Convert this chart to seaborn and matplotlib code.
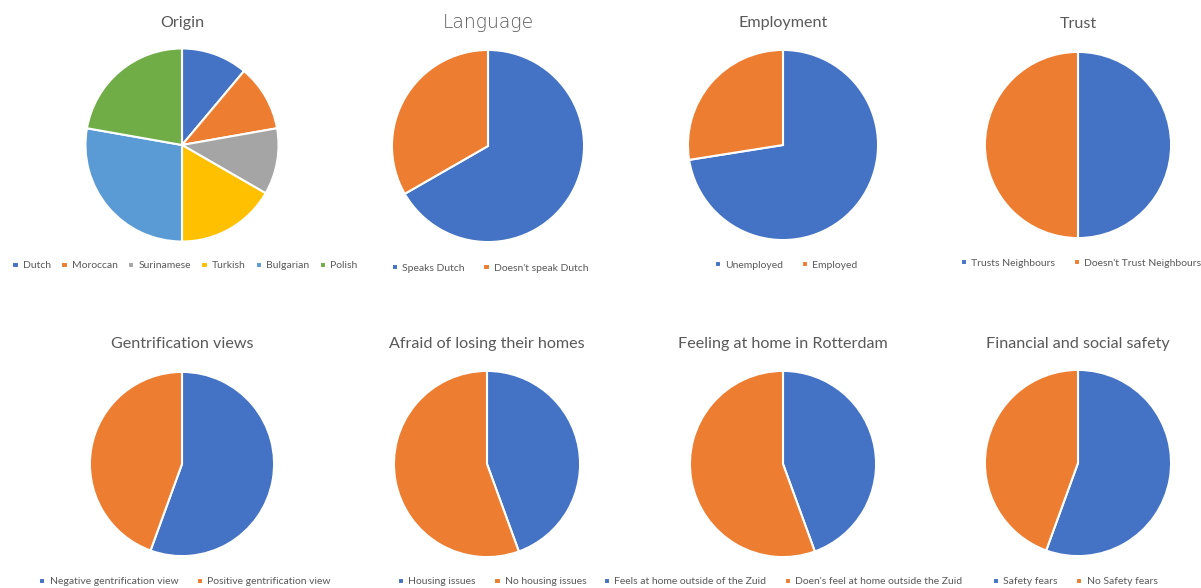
import matplotlib
matplotlib.use("Agg")
import matplotlib.pyplot as plt
import seaborn as sns

sns.set_theme(style="white")
plt.rcParams['font.family'] = ['Lato', 'DejaVu Sans']

W, H = 1201, 588

# ---- data ----
origin_labels = ["Dutch", "Moroccan", "Surinamese", "Turkish", "Bulgarian", "Polish"]
origin_values = [2, 2, 2, 3, 5, 4]
language_labels = ["Speaks Dutch", "Doesn't speak Dutch"]
language_values = [66.7, 33.3]
employment_labels = ["Unemployed", "Employed"]
employment_values = [72.5, 27.5]
trust_labels = ["Trusts Neighbours", "Doesn't Trust Neighbours"]
trust_values = [50, 50]
gentrification_labels = ["Negative gentrification view", "Positive gentrification view"]
gentrification_values = [5, 4]
afraid_labels = ["Housing issues", "No housing issues"]
afraid_values = [4, 5]
home_labels = ["Feels at home outside of the Zuid", "Doen's feel at home outside the Zuid"]
home_values = [4, 5]
safety_labels = ["Safety fears", "No Safety fears"]
safety_values = [5, 4]

titles = ["Origin", "Language", "Employment", "Trust",
          "Gentrification views", "Afraid of losing their homes",
          "Feeling at home in Rotterdam", "Financial and social safety"]

palette = sns.color_palette(["#4472C4", "#ED7D31", "#A5A5A5", "#FFC000", "#5B9BD5", "#70AD47"])

# layout (pixels): pie center, radius, title y, legend center x, legend y
specs = [
    (origin_labels, origin_values, 182, 145, 97.5, 23, 185, 266),
    (language_labels, language_values, 488, 146, 97, 23, 490, 268),
    (employment_labels, employment_values, 783, 145, 96, 23, 786, 265),
    (trust_labels, trust_values, 1078, 145, 94, 24, 1081, 263),
    (gentrification_labels, gentrification_values, 182, 464, 93, 344, 185, 582),
    (afraid_labels, afraid_values, 487, 464, 94, 344, 492, 582),
    (home_labels, home_values, 783, 464, 94, 344, 783, 582),
    (safety_labels, safety_values, 1078, 463, 94, 344, 1075, 582),
]

fig = plt.figure(figsize=(W / 100, H / 100), dpi=100)
fig.patch.set_facecolor("white")
text_color = "#595959"

for i, (labels, values, cx, cy, r, ty, lx, ly) in enumerate(specs):
    ax = fig.add_axes([(cx - r) / W, (H - cy - r) / H, 2 * r / W, 2 * r / H])
    wedges, _ = ax.pie(values, colors=palette[:len(values)], startangle=90,
                       counterclock=False, radius=1,
                       wedgeprops=dict(edgecolor="white", linewidth=1.5))
    ax.set_xlim(-1.01, 1.01)
    ax.set_ylim(-1.01, 1.01)
    ax.set_aspect("auto")
    ax.axis("off")
    if i == 1:
        fig.text(488 / W, 1 - ty / H, titles[i], ha="center", va="center",
                 fontsize=13.5, color=text_color, family=["DejaVu Sans"],
                 fontweight="light")
    else:
        fig.text(cx / W, 1 - ty / H, titles[i], ha="center",
                 va="center", fontsize=11.6, color=text_color)
    leg = fig.legend(wedges, labels, loc="center", ncol=len(labels),
                     bbox_to_anchor=(lx / W, 1 - ly / H), frameon=False,
                     fontsize=7.5, handlelength=0.6, handleheight=0.6,
                     handletextpad=0.4, columnspacing=1.8 if len(labels) == 2 else 1.0,
                     borderpad=0, borderaxespad=0)
    for t in leg.get_texts():
        t.set_color(text_color)

fig.savefig("out.png", dpi=100, facecolor="white")
